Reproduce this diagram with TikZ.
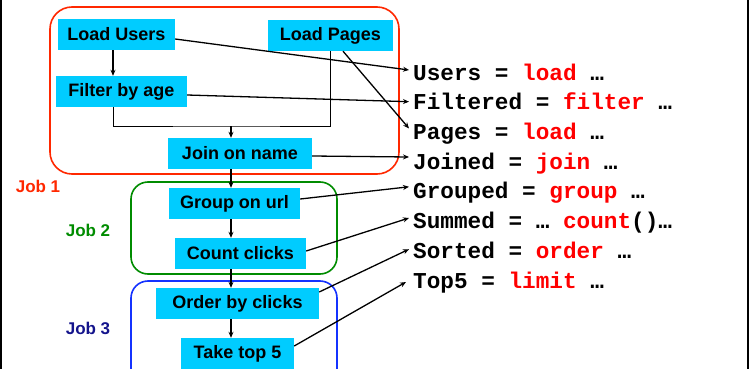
\documentclass[tikz,border=0pt]{standalone}
\usepackage{fontspec}
\setmainfont{Liberation Sans}
\newfontfamily\codefont{Liberation Mono}
\usetikzlibrary{arrows.meta}
\definecolor{boxcyan}{RGB}{0,204,255}
\definecolor{jobred}{RGB}{255,40,0}
\definecolor{jobgreen}{RGB}{0,140,0}
\definecolor{jobblue}{RGB}{20,50,255}
\definecolor{jobnavy}{RGB}{20,20,140}
\definecolor{kwred}{RGB}{255,0,0}
\tikzset{
  opbox/.style={fill=boxcyan, minimum height=31pt, inner sep=0pt, font=\fontsize{18pt}{20pt}\selectfont\bfseries},
  code/.style={anchor=base west, inner xsep=4pt, inner ysep=0pt, text height=16pt, text depth=0pt, font=\codefont\fontsize{22.7pt}{24pt}\selectfont\bfseries},
  flow/.style={line width=1.1pt, -{Stealth[length=6pt,width=5pt]}},
  thin/.style={line width=0.8pt},
  link/.style={line width=1.3pt, -{Stealth[length=6pt,width=5pt]}},
  jobbox/.style={rounded corners=17pt, line width=1.6pt},
  joblabel/.style={font=\fontsize{17pt}{19pt}\selectfont\bfseries},
}
\begin{document}
\begin{tikzpicture}[x=1pt,y=-1pt]
\useasboundingbox (0,0) rectangle (749,369);
\clip (0,0) rectangle (749,369);
\fill[white] (0,0) rectangle (749,369);
\draw[line width=3pt] (0,0) -- (0,369);
\draw[line width=3pt] (748.5,0) -- (748.5,369);

% job boxes
\draw[jobbox, draw=jobred, rounded corners=22pt] (50,7) rectangle (399,174);
\draw[jobbox, draw=jobgreen] (131,182) rectangle (337,274);
\draw[jobbox, draw=jobblue] (131,281) rectangle (337,395);

\node[joblabel, text=jobred] (j1) at (38,186) {Job 1};
\node[joblabel, text=jobgreen] (j2) at (88,230) {Job 2};
\node[joblabel, text=jobnavy] (j3) at (88,328) {Job 3};

% operator boxes
\node[opbox, minimum width=117pt] (lu) at (116.5,34.5) {Load Users};
\node[opbox, minimum width=125pt] (lp) at (330.5,35.5) {Load Pages};
\node[opbox, minimum width=131pt] (fa) at (121.5,91.5) {Filter by age};
\node[opbox, minimum width=144pt] (jn) at (240,153.5) {Join on name};
\node[opbox, minimum width=131pt] (gu) at (234.5,203.5) {Group on url};
\node[opbox, minimum width=131pt] (cc) at (240.5,253.5) {Count clicks};
\node[opbox, minimum width=163pt] (ob) at (237.5,303.5) {Order by clicks};
\node[opbox, minimum width=113pt] (tt) at (237.5,353.5) {Take top 5};

% code lines
\node[code] (users) at (409,80) {Users = \textcolor{kwred}{load} …};
\node[code] (filt) at (409,109.7) {Filtered = \textcolor{kwred}{filter} …};
\node[code] (pages) at (409,139.4) {Pages = \textcolor{kwred}{load} …};
\node[code] (joined) at (409,169) {Joined = \textcolor{kwred}{join} …};
\node[code] (grouped) at (409,198.8) {Grouped = \textcolor{kwred}{group} …};
\node[code] (summed) at (409,228.5) {Summed = … \textcolor{kwred}{count}()…};
\node[code] (sorted) at (409,258.2) {Sorted = \textcolor{kwred}{order} …};
\node[code] (top) at (409,288) {Top5 = \textcolor{kwred}{limit} …};

% flow inside
\coordinate (m) at (231,126);
\draw[flow] ([xshift=-3.5pt]lu.south) -- ([xshift=-3.5pt]lu.south |- fa.north);
\draw[thin] ([xshift=-8.5pt]fa.south) |- (m) -| (lp.south);
\draw[flow] (m) -- (m |- jn.north);
\draw[flow] (m |- jn.south) -- (m |- gu.north);
\draw[flow] (m |- gu.south) -- (m |- cc.north);
\draw[flow] (m |- cc.south) -- (m |- ob.north);
\draw[flow] (m |- ob.south) -- (m |- tt.north);

% links to code
\draw[link] ([yshift=-4.5pt]lu.east) -- ([yshift=2pt]users.west);
\draw[link] ([yshift=-3.5pt]fa.east) -- (filt.west);
\draw[link] ([xshift=12.5pt]lp.south) -- ([yshift=3pt]pages.west);
\draw[link] ([yshift=-2.5pt]jn.east) -- ([yshift=4pt]joined.west);
\draw[link] ([yshift=4.5pt]gu.east) -- ([yshift=4pt]grouped.west);
\draw[link] ([yshift=2.5pt]cc.east) -- ([yshift=2.5pt]summed.west);
\draw[link] ([yshift=11.5pt]ob.east) -- ([yshift=1pt]sorted.west);
\draw[link] ([yshift=7.5pt]tt.east) -- ([xshift=-3pt,yshift=-2pt]top.west);
\end{tikzpicture}
\end{document}
